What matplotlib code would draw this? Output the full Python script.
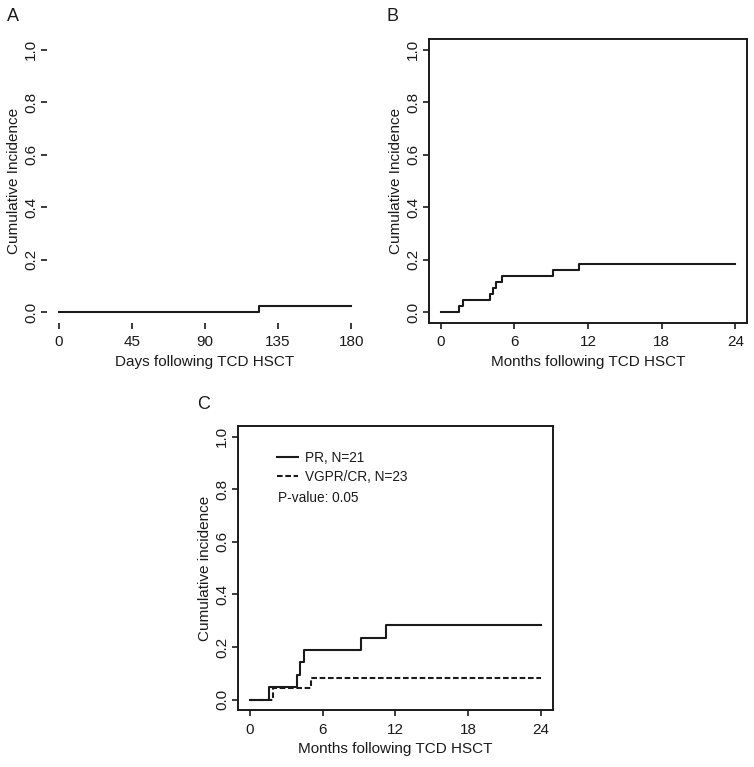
import numpy as np
import matplotlib
matplotlib.use("Agg")
import matplotlib.pyplot as plt

plt.rcParams['font.family'] = ['Liberation Sans', 'DejaVu Sans']
plt.rcParams['font.size'] = 11

# panel A: days after TCD HSCT
days_a = [0, 123, 180]
inc_a = [0.0, 0.023, 0.023]

# panel B: months after TCD HSCT
months_b = [0, 1.5, 1.78, 4.02, 4.29, 4.51, 4.98, 9.16, 11.26, 24]
inc_b = [0.0, 0.023, 0.047, 0.07, 0.093, 0.116, 0.14, 0.163, 0.186, 0.186]

# panel C: by response
months_pr = [0, 1.55, 3.9, 4.17, 4.5, 9.19, 11.26, 24]
inc_pr = [0.0, 0.048, 0.095, 0.143, 0.19, 0.234, 0.284, 0.284]
months_vg = [0, 1.9, 5.0, 24]
inc_vg = [0.0, 0.0435, 0.082, 0.082]

yticks = [0.0, 0.2, 0.4, 0.6, 0.8, 1.0]
ink = '#1a1a1a'

fig = plt.figure(figsize=(7.54, 7.67), dpi=100)


def style(ax, xticks, frame=True):
    ax.set_ylim(-0.04, 1.04)
    span = xticks[-1] - xticks[0]
    ax.set_xlim(xticks[0] - 0.04 * span, xticks[-1] + 0.04 * span)
    ax.set_xticks(xticks)
    ax.set_yticks(yticks)
    ax.set_yticklabels([f'{v:.1f}' for v in yticks])
    ax.tick_params(direction='out', length=4.5, width=1.2, color=ink,
                   labelcolor=ink)
    ax.tick_params(axis='x', pad=4.5)
    ax.tick_params(axis='y', pad=2, labelrotation=90)
    for lab in ax.get_yticklabels():
        lab.set_va('center')
    for s in ax.spines.values():
        s.set_visible(frame)
        s.set_linewidth(1.4)
        s.set_color(ink)


axA = fig.add_axes([0.0623, 0.579, 0.419, 0.370])
axA.step(days_a, inc_a, where='post', color=ink, lw=1.5)
style(axA, [0, 45, 90, 135, 180], frame=False)
axA.set_xlabel('Days following TCD HSCT', color=ink, labelpad=4)
axA.set_ylabel('Cumulative Incidence', color=ink, labelpad=2)

axB = fig.add_axes([0.569, 0.579, 0.422, 0.370])
axB.step(months_b, inc_b, where='post', color=ink, lw=1.5)
style(axB, [0, 6, 12, 18, 24])
axB.set_xlabel('Months following TCD HSCT', color=ink, labelpad=4)
axB.set_ylabel('Cumulative Incidence', color=ink, labelpad=2)

axC = fig.add_axes([0.316, 0.0743, 0.417, 0.370])
axC.step(months_pr, inc_pr, where='post', color=ink, lw=1.5)
axC.step(months_vg, inc_vg, where='post', color=ink, lw=1.5,
         dashes=(2.7, 1.3))
style(axC, [0, 6, 12, 18, 24])
axC.set_xlabel('Months following TCD HSCT', color=ink, labelpad=4)
axC.set_ylabel('Cumulative incidence', color=ink, labelpad=2)

leg = axC.legend(['PR, N=21', 'VGPR/CR, N=23'], loc='upper left',
                 bbox_to_anchor=(0.124, 0.912), borderaxespad=0, borderpad=0,
                 frameon=False, fontsize=9.8, handlelength=1.55,
                 handletextpad=0.5, labelspacing=0.32)
for t in leg.get_texts():
    t.set_color(ink)
axC.text(0.127, 0.732, 'P-value: 0.05', transform=axC.transAxes,
         fontsize=9.8, color=ink, va='baseline')

fig.text(0.009, 0.9726, 'A', fontsize=13, color=ink, va='baseline')
fig.text(0.513, 0.9726, 'B', fontsize=13, color=ink, va='baseline')
fig.text(0.261, 0.4667, 'C', fontsize=13, color=ink, va='baseline')

fig.savefig('out.png', dpi=100)
